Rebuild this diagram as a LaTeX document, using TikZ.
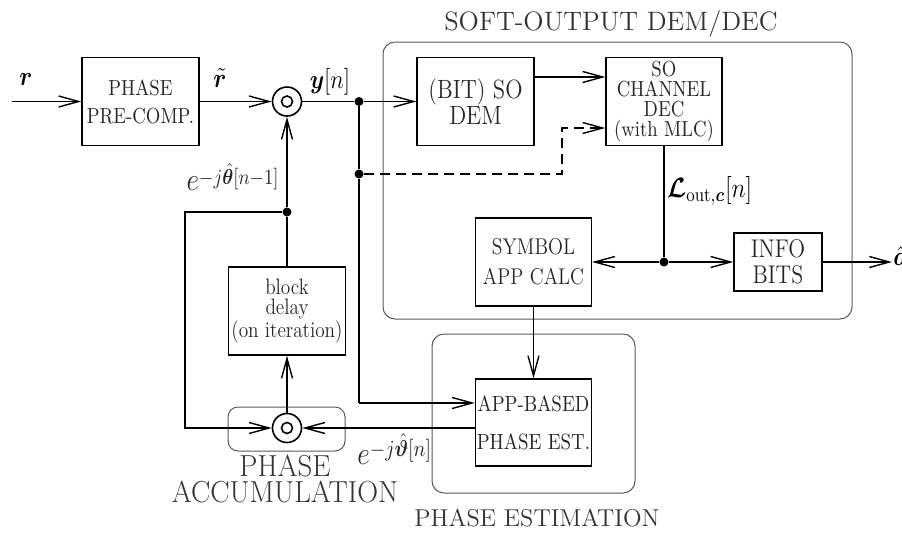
\RequirePackage{fix-cm}
\documentclass[tikz,border=0pt]{standalone}
\usepackage{amsmath}
\usepackage{bm}
\usepackage{graphicx}
\usepackage{fontspec}
\setmainfont{Latin Modern Roman}
\newfontfamily\nrw{Latin Modern Roman}[FakeStretch=0.86]
\newfontfamily\wdr{Latin Modern Roman}[FakeStretch=0.95]
\newcommand{\nfs}[2]{\nrw\fontsize{#1}{#2}\selectfont}
\newcommand{\sq}[1]{\scalebox{0.86}[1]{#1}}
\usetikzlibrary{arrows.meta,calc}
\begin{document}
\begin{tikzpicture}[x=0.5pt,y=-0.5pt,
  conn/.style={line width=0.7pt},
  arr/.style={conn,-{Straight Barb[length=10pt,width=5.5pt]}},
  blk/.style={draw,line width=0.7pt,inner sep=0pt,align=center,text=black!85},
  grp/.style={draw=black!65,line width=0.5pt,rounded corners=6pt},
  mult/.style={draw,circle,line width=0.8pt,minimum size=14.5pt,inner sep=0pt},
  jdot/.style={circle,fill,inner sep=0pt,minimum size=4.5pt},
  ttl/.style={text=black!80,align=center,inner sep=0pt},
  lbl/.style={inner sep=0pt}]
\useasboundingbox (0,0) rectangle (902,532);

% group frames
\draw[grp] (383,42) rectangle (852,319);
\draw[grp] (432,334) rectangle (635,493);
\draw[grp,rounded corners=5pt] (228,407) rectangle (345,451);

% group titles
\node[ttl,font=\fontsize{13.3}{15}\selectfont] (tsoft) at (611,24) {SOFT-OUTPUT DEM/DEC};
\node[ttl,font=\fontsize{12.2}{14}\selectfont] (test) at (537,518) {PHASE ESTIMATION};
\node[ttl,font=\wdr\fontsize{15.2}{12.8}\selectfont] (tacc) at (285,479) {PHASE\\ACCUMULATION};

% blocks
\node[blk,minimum width=58.5pt,minimum height=44pt,font=\nfs{10.9}{14}] (pre) at (140.5,101.5) {PHASE\\PRE-COMP.};
\node[blk,minimum width=58.5pt,minimum height=44pt,font=\nfs{13.2}{13}] (dem) at (475.5,101.5) {(BIT) SO\\DEM};
\node[blk,minimum width=58pt,minimum height=44pt,font=\nfs{10.9}{10}] (dec) at (664,101.5) {SO\\CHANNEL\\DEC\\(with MLC)};
\node[blk,minimum width=58pt,minimum height=44pt,font=\nfs{11.4}{15}] (sym) at (533.5,262) {SYMBOL\\APP CALC};
\node[blk,minimum width=44pt,minimum height=29pt,font=\nfs{12.8}{13}] (info) at (778,262) {INFO\\BITS};
\node[blk,minimum width=58.5pt,minimum height=44pt,font=\nfs{11.2}{10}] (delay) at (287,311) {block\\delay\\(on iteration)};
\node[blk,minimum width=58pt,minimum height=43.5pt,font=\nfs{11}{19}] (app) at (533.5,422.5) {APP-BASED\\PHASE EST.};

% multipliers
\node[mult] (mulA) at (287,101.5) {};
\draw[line width=0.8pt] (mulA) circle[radius=2.75pt];
\node[mult] (mulB) at (287,428) {};
\draw[line width=0.8pt] (mulB) circle[radius=2.75pt];

% junctions and corners
\node[jdot] (j1) at (359,101.5) {};
\node[jdot] (j2) at (359,174) {};
\node[jdot] (j3) at (287,212) {};
\node[jdot] (j4) at (664,262) {};
\coordinate (in) at (12,101.5);
\coordinate (out) at (892,262);
\coordinate (c2) at (562,128);
\coordinate (c4) at (185,428);
\coordinate (c5) at (359,403);
\coordinate (d1) at (534,77);

% forward path
\draw[arr] (in) -- (pre.west);
\draw[arr] (pre.east) -- (mulA.west);
\draw[conn] (mulA.east) -- (j1);
\draw[arr] (j1) -- (dem.west);
\draw[arr] (d1) -- (d1 -| dec.west);
\draw[arr,dashed,dash pattern=on 5pt off 3pt] (j2) -| (c2) -- (c2 -| dec.west);
\draw[conn] (dec.south) -- (j4);
\draw[arr] (j4) -- (sym.east);
\draw[arr] (j4) -- (info.west);
\draw[arr] (info.east) -- (out);
\draw[arr] (sym.south) -- (app.north);

% estimation path
\draw[conn] (j1) -- (j2) -- (c5);
\draw[arr] (c5) -- (c5 -| app.west);
\draw[arr] (app.west |- mulB) -- (mulB.east);
\draw[arr] (mulB.north) -- (delay.south);
\draw[conn] (delay.north) -- (j3);
\draw[arr] (j3) -- (mulA.south);
\draw[arr] (j3) -| (c4) -- (mulB.west);

% labels
\node[lbl,font=\fontsize{13.5}{14}\selectfont] (lr) at (26,79) {\sq{$\bm{r}$}};
\node[lbl,font=\fontsize{13.5}{14}\selectfont] (lrt) at (220,78) {\sq{$\tilde{\bm{r}}$}};
\node[lbl,font=\fontsize{13.4}{14}\selectfont] (ly) at (330,82) {\sq{$\bm{y}[n]$}};
\node[lbl,font=\fontsize{14}{14}\selectfont,anchor=west] (lL) at (667,191) {\sq{$\bm{\mathcal{L}}_{\text{out},\bm{c}}[n]$}};
\node[lbl,font=\fontsize{13.5}{14}\selectfont,anchor=west] (la) at (893,256) {\sq{$\hat{\bm{a}}$}};
\node[lbl,anchor=east,text=black!85] (lth) at (279,177) {\sq{\fontsize{16}{16}\selectfont$e$\raisebox{3pt}{\fontsize{10.8}{11}\selectfont$-j\hat{\bm{\theta}}[n{-}1]$}}};
\node[lbl,anchor=west,text=black!85] (lvt) at (357,449) {\sq{\fontsize{16}{16}\selectfont$e$\raisebox{4pt}{\fontsize{11.5}{12}\selectfont$-j\hat{\bm{\vartheta}}[n]$}}};
\end{tikzpicture}
\end{document}
